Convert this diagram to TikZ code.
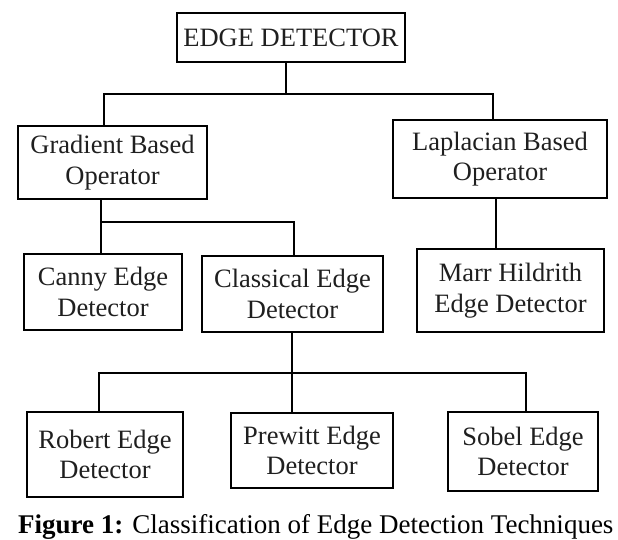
\documentclass[tikz,border=0pt]{standalone}
\usepackage{fontspec}
\setmainfont{Liberation Serif}
\begin{document}
\begin{tikzpicture}[x=1pt,y=-1pt,
  box/.style={draw=black, line width=1.7pt, rectangle, inner sep=0pt, align=center,
    font=\fontsize{26.5}{30.5}\selectfont, text=black!88},
  conn/.style={draw=black, line width=1.7pt}]
\fill[white] (0,0) rectangle (618,540);
\useasboundingbox (0,0) rectangle (618,540);

\node[box, minimum width=228pt, minimum height=49pt] (top) at (291,37.5) {EDGE DETECTOR};
\node[box, minimum width=189pt, minimum height=73pt] (grad) at (112.5,162.5) {Gradient Based\\Operator};
\node[box, minimum width=214pt, minimum height=78pt] (lap) at (500,159) {Laplacian Based\\Operator};
\node[box, minimum width=158pt, minimum height=76pt] (canny) at (103,292) {Canny Edge\\Detector};
\node[box, minimum width=181pt, minimum height=76pt] (class) at (292.5,294) {Classical Edge\\Detector};
\node[box, minimum width=187pt, minimum height=83pt] (marr) at (510.5,290.5) {Marr Hildrith\\Edge Detector};
\node[box, minimum width=156pt, minimum height=85pt] (robert) at (105,454.5) {Robert Edge\\Detector};
\node[box, minimum width=162pt, minimum height=75pt] (prewitt) at (312,450.5) {Prewitt Edge\\Detector};
\node[box, minimum width=150pt, minimum height=79pt] (sobel) at (523,451.5) {Sobel Edge\\Detector};

\coordinate (j1) at (286,94);
\coordinate (b1L) at (104,94);
\coordinate (b1R) at (493,94);
\coordinate (b2L) at (101,222);
\coordinate (b2R) at (294,222);
\coordinate (j3) at (496,220);
\coordinate (b4L) at (99,373);
\coordinate (b4M) at (292,373);
\coordinate (b4R) at (526,373);

\draw[conn] (top.south -| j1) -- (j1);
\draw[conn] (grad.north -| b1L) |- (b1R) -- (lap.north -| b1R);
\draw[conn] (grad.south -| b2L) -- (canny.north -| b2L);
\draw[conn] (b2L) -- (b2R) -- (class.north -| b2R);
\draw[conn] (lap.south -| j3) -- (marr.north -| j3);
\draw[conn] (class.south -| b4M) -- (prewitt.north -| b4M);
\draw[conn] (robert.north -| b4L) |- (b4R) -- (sobel.north -| b4R);

\node[anchor=base west, inner sep=0pt, font=\fontsize{27}{32}\selectfont] (cap) at (18,533)
  {\textbf{Figure 1:} Classification of Edge Detection Techniques};
\end{tikzpicture}
\end{document}
